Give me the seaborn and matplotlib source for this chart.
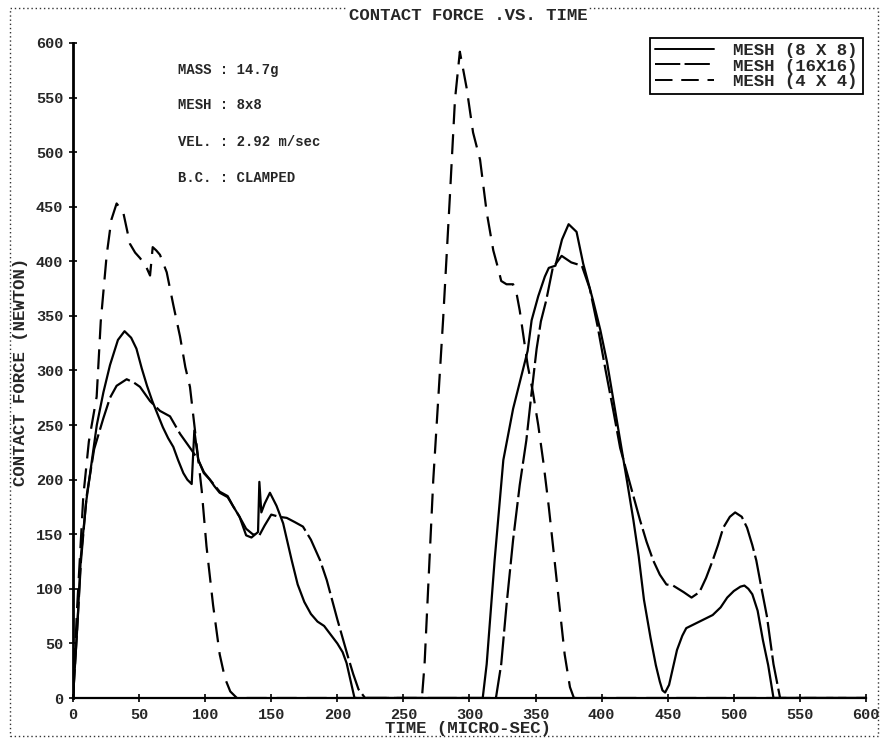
import numpy as np
import pandas as pd
import matplotlib
matplotlib.use("Agg")
import matplotlib.pyplot as plt
import seaborn as sns
from matplotlib.lines import Line2D
from matplotlib.patches import Rectangle

# ---------------- data ----------------
series_names = ["MESH (8 X 8)", "MESH (16X16)", "MESH (4 X 4)"]

# (time [micro-sec], contact force [N]) pairs
pts_8x8 = [(0, 0), (3, 60), (6, 130), (10, 180), (14, 215), (18, 250), (23, 280), (28, 305),
           (34, 328), (39, 336), (44, 330), (48, 320), (52, 302), (56, 286), (60, 272), (64, 260),
           (68, 248), (72, 238), (75.9, 230), (79.5, 218), (83.5, 206), (86.5, 200), (89.8, 196),
           (91.8, 245), (94.8, 218), (99, 206), (103.6, 200), (107, 194), (111, 188), (117, 184),
           (121, 176), (126, 166), (131, 149), (135, 147), (140, 152), (141, 198), (142.5, 170),
           (145, 178), (149, 188), (154, 176), (159, 160), (165.5, 126), (170, 104), (175, 88),
           (180, 77), (185, 70), (190, 66), (195, 58), (200, 50), (204, 42), (207, 32), (210, 16),
           (213, 0),
           (310, 0), (313, 31), (319, 126), (325.6, 218), (333, 265), (340.7, 302), (344, 318),
           (347, 346), (352, 368), (357, 386), (360, 394), (365, 396), (370, 420), (375, 434),
           (381, 427), (386, 398), (393.5, 364), (399, 337), (404, 308), (409, 272), (414, 236),
           (419, 200), (424, 163), (428, 130), (432, 90), (437, 55), (441, 30), (444, 15),
           (446, 7), (448, 5), (451, 12), (454, 28), (457, 44), (461, 57), (464, 64), (469, 67),
           (474, 70), (479, 73), (484, 76), (490, 83), (495, 92), (500, 98), (505, 102),
           (508, 103), (511, 100), (514, 95), (518, 80), (522, 53), (526, 30), (530, 0), (600, 0)]

pts_16x16 = [(0, 0), (3, 60), (6, 125), (10.3, 185), (16, 228), (22.9, 256), (28, 275), (33, 286),
             (40.6, 292), (46, 289), (50.7, 285), (58.3, 272), (65.8, 263), (73.4, 258), (81, 242),
             (89.8, 227), (94.8, 218), (99, 207), (103.6, 200), (111, 189), (117, 185), (121, 176),
             (126, 166), (131, 155), (136, 150), (141, 149), (145, 158), (150, 168), (156, 166),
             (161.7, 165), (168, 161), (174, 157), (180, 145), (187, 126), (192, 108), (196, 90),
             (200, 72), (204, 55), (208, 38), (212, 22), (216, 8), (221, 0),
             (320, 0), (324, 31), (328, 85), (333, 145), (338, 195), (343, 236), (347, 280),
             (350.8, 320), (354, 345), (358, 364), (363, 394), (369.7, 405), (377, 399),
             (385, 396), (391, 375), (397, 340), (403, 300), (409, 262), (414, 229), (419, 207),
             (424, 185), (429, 163), (434, 143), (439, 126), (444, 113), (449, 104), (454, 103),
             (458, 100), (462, 97), (468, 92), (474, 97), (479, 110), (484, 126), (488, 140),
             (492, 156), (497, 166), (501, 170), (506, 166), (510, 156), (514, 140), (517, 126),
             (521, 100), (525, 75), (530, 31), (535, 0), (600, 0)]

pts_4x4 = [(0, 0), (3, 80), (7.8, 185), (12, 235), (17.9, 276), (21, 345), (25.5, 406), (29, 438),
           (33, 453), (38, 445), (43.1, 416), (47, 408), (50.7, 403), (55, 396), (58.3, 387),
           (60.3, 413), (63, 410), (65.8, 406), (70.9, 390), (75.9, 360), (81, 331), (85, 303),
           (88.5, 285), (92.3, 245), (97.4, 190), (101, 139), (106, 85), (111, 40), (115, 18),
           (119, 6), (124, 0),
           (264, 0), (266, 31), (272.6, 200), (280, 346), (285, 456), (289, 548), (292.7, 592),
           (297.8, 559), (302.7, 518), (308, 493), (313, 445), (318, 410), (322, 392), (324, 382),
           (328, 379), (333, 379), (335.7, 370), (338, 355), (341, 330), (344, 305), (348, 280),
           (352, 250), (356, 215), (360, 175), (364, 130), (368, 85), (372, 40), (376, 10),
           (379, 0), (600, 0)]

x_ticks = [0, 50, 100, 150, 200, 250, 300, 350, 400, 450, 500, 550, 600]
y_ticks = [0, 50, 100, 150, 200, 250, 300, 350, 400, 450, 500, 550, 600]

info_lines = ["MASS : 14.7g", "MESH : 8x8", "VEL. : 2.92 m/sec", "B.C. : CLAMPED"]

# ---------------- build table ----------------
frames = []
for name, pts in zip(series_names, [pts_8x8, pts_16x16, pts_4x4]):
    t, f = zip(*pts)
    frames.append(pd.DataFrame({"time": t, "force": f, "mesh": name}))
df = pd.concat(frames, ignore_index=True)

# ---------------- style ----------------
sns.set_theme(style="white")
plt.rcParams["font.family"] = ["Liberation Mono", "DejaVu Sans"]
plt.rcParams["font.weight"] = "bold"

fig = plt.figure(figsize=(8.82, 7.42), dpi=100)
ax = fig.add_axes([73 / 882, 1 - 698 / 742, (866 - 73) / 882, (698 - 43) / 742])

dash_long = (13, 2.2)
dash_short = (9, 4.5)
dash_map = {series_names[0]: "", series_names[1]: dash_long, series_names[2]: dash_short}
sns.lineplot(data=df, x="time", y="force", hue="mesh", style="mesh",
             palette=["black"] * 3, dashes=dash_map, estimator=None, sort=False,
             linewidth=1.6, legend=False, ax=ax)

ax.set_xlim(0, 600)
ax.set_ylim(0, 600)
ax.set_xticks(x_ticks)
ax.set_yticks(y_ticks)
ax.tick_params(axis="both", direction="inout", length=6, width=1.2, color="black",
               labelsize=11, pad=4, bottom=True, left=True)
for lab in ax.get_xticklabels() + ax.get_yticklabels():
    lab.set_fontweight("bold")
ax.spines["top"].set_visible(False)
ax.spines["right"].set_visible(False)
ax.spines["left"].set_linewidth(2.0)
ax.spines["bottom"].set_linewidth(1.6)
ax.spines["left"].set_color("black")
ax.spines["bottom"].set_color("black")
ax.set_facecolor("white")

ax.set_xlabel("TIME (MICRO-SEC)", fontsize=12.5, fontweight="bold")
ax.set_ylabel("CONTACT FORCE (NEWTON)", fontsize=12.5, fontweight="bold")
ax.xaxis.set_label_coords((468 - 73) / 793, -(721 - 698) / 655)
ax.yaxis.set_label_coords(-(73 - 28) / 793, (698 - 372) / 655)

# info text block
for i, s in enumerate(info_lines):
    y_px = [70, 105, 142, 178][i]
    ax.text((178 - 73) / 793, (698 - y_px) / 655, s, transform=ax.transAxes,
            fontsize=10, fontweight="bold", va="center", ha="left")

# legend
handles = [Line2D([0], [0], color="black", lw=1.4, linestyle="-"),
           Line2D([0], [0], color="black", lw=1.4, dashes=dash_long),
           Line2D([0], [0], color="black", lw=1.4, dashes=dash_short)]
leg = ax.legend(handles, series_names, loc="upper right",
                bbox_to_anchor=((863 - 73) / 793, (698 - 38) / 655), borderaxespad=0,
                frameon=True, fancybox=False, framealpha=1, edgecolor="black",
                borderpad=0.3, labelspacing=0.0, handlelength=3.4, handletextpad=1.1,
                prop={"family": "Liberation Mono", "weight": "bold", "size": 12.5})
leg.get_frame().set_linewidth(1.3)

# dotted page border and title
border = Rectangle((10 / 882, 1 - 736 / 742), (878 - 10) / 882, (736 - 8) / 742,
                   transform=fig.transFigure, fill=False, linestyle=(0, (1, 2)),
                   linewidth=1.0, edgecolor="#333333", zorder=0)
fig.add_artist(border)
fig.text(468 / 882, 1 - 15 / 742, "CONTACT FORCE .VS. TIME", ha="center", va="center",
         fontsize=12.5, fontweight="bold",
         bbox=dict(facecolor="white", edgecolor="none", pad=1))

fig.savefig("out.png", dpi=100, facecolor="white")
